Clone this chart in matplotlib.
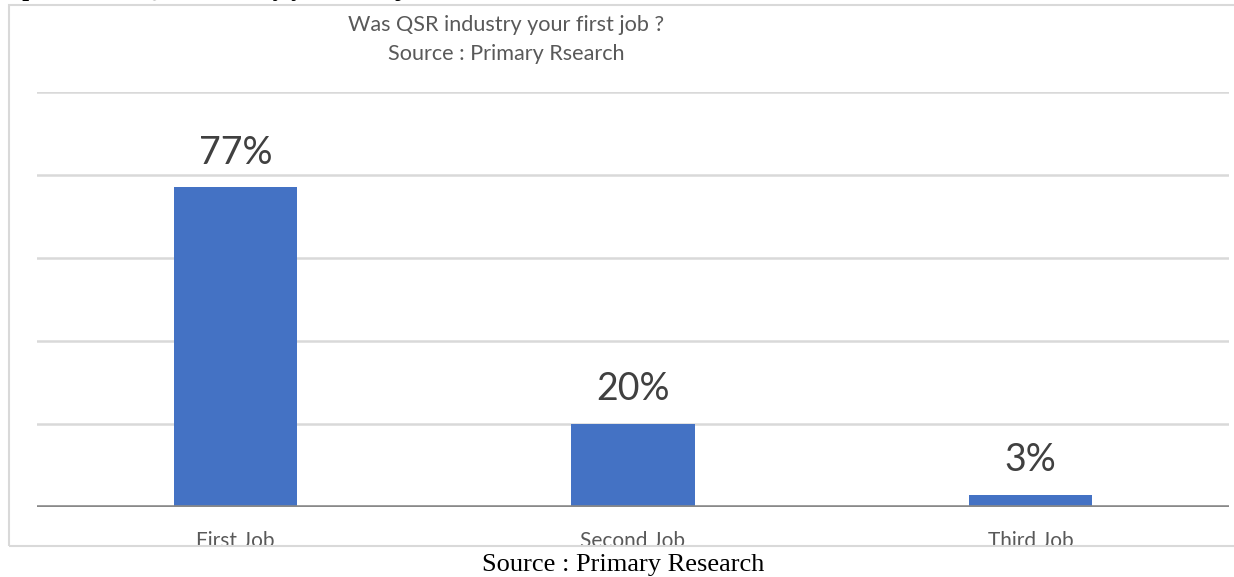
import matplotlib.pyplot as plt
from matplotlib.patches import Rectangle

jobs = ["First Job", "Second Job", "Third Job"]
share = [77, 20, 3]
labels = ["77%", "20%", "3%"]
y_ticks = [20, 40, 60, 80, 100]

W, H = 1234, 577


def px(x, y):
    # pixel position (from top-left) to figure fraction
    return x / W, 1 - y / H


def make_fig():
    fig = plt.figure(figsize=(W / 100, H / 100), dpi=100)
    l, b = px(37, 507)
    r, t = px(1229, 92)
    ax = fig.add_axes([l, b, r - l, t - b])

    x = range(len(jobs))
    ax.bar(x, share, width=0.31, color="#4472C4", zorder=3)
    for i in x:
        ax.text(i, share[i] + 4, labels[i], ha="center", va="bottom",
                fontsize=27, color="#404040", family="Lato")

    ax.set_xlim(-0.5, 2.5)
    ax.set_ylim(0, 100)
    for v in y_ticks:
        ax.axhline(v, color="#D9D9D9", lw=1.8, zorder=1)
    ax.axhline(0, color="#898989", lw=2.6, zorder=4)

    ax.set_xticks(list(x))
    ax.set_xticklabels(jobs, fontsize=15, color="#595959", family="Lato")
    ax.tick_params(axis="x", length=0, pad=17)
    ax.set_yticks([])
    for s in ax.spines.values():
        s.set_visible(False)

    # chart title inside the frame
    fig.text(*px(506, 25), "Was QSR industry your first job ?", ha="center", va="center",
             fontsize=15.6, color="#595959", family="Lato")
    fig.text(*px(506, 54), "Source : Primary Rsearch", ha="center", va="center",
             fontsize=15.6, color="#595959", family="Lato")

    # white strip under the frame, then the frame itself
    fig.patches.append(Rectangle((0, 0), 1, px(0, 546)[1], transform=fig.transFigure,
                                 facecolor="white", edgecolor="none", zorder=5))
    x0, y0 = px(9, 546)
    fig.patches.append(Rectangle((x0, y0), 1.1, px(0, 5)[1] - y0, transform=fig.transFigure,
                                 facecolor="none", edgecolor="#D9D9D9", lw=1.5, zorder=6))

    # caption text from the surrounding document
    fig.text(*px(-20, -4), "Graph 2 : Was QSR industry your first job", ha="left", va="baseline",
             fontsize=17.7, fontweight="bold", family="Liberation Serif", zorder=7)
    fig.text(*px(623, 571), "Source : Primary Research", ha="center", va="baseline",
             fontsize=19, family="Liberation Serif", zorder=7)
    return fig


def main():
    fig = make_fig()
    fig.savefig("out.png", dpi=100)


if __name__ == "__main__":
    main()
